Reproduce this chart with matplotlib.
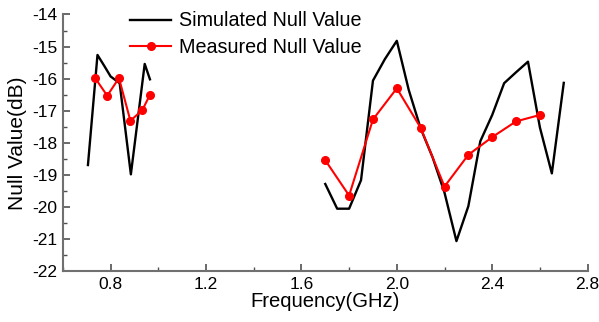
import matplotlib
matplotlib.use("Agg")
import matplotlib.pyplot as plt
from matplotlib.ticker import MultipleLocator

plt.rcParams['font.family'] = ['Liberation Sans', 'DejaVu Sans']
plt.rcParams['axes.unicode_minus'] = False

# Low band (GHz, dB)
sim_low_freq = [0.705, 0.745, 0.775, 0.800, 0.838, 0.885, 0.943, 0.965]
sim_low_null = [-18.69, -15.26, -15.62, -15.93, -16.14, -18.98, -15.54, -16.02]
meas_low_freq = [0.735, 0.786, 0.835, 0.883, 0.933, 0.965]
meas_low_null = [-15.98, -16.53, -15.98, -17.31, -16.98, -16.50]

# High band (GHz, dB)
sim_high_freq = [1.70, 1.75, 1.80, 1.85, 1.90, 1.95, 2.00, 2.05, 2.10, 2.15,
                 2.20, 2.25, 2.30, 2.35, 2.40, 2.45, 2.50, 2.55, 2.60, 2.65, 2.70]
sim_high_null = [-19.28, -20.05, -20.05, -19.16, -16.06, -15.39, -14.82, -16.35,
                 -17.55, -18.45, -19.55, -21.06, -19.97, -17.95, -17.13, -16.14,
                 -15.80, -15.47, -17.52, -18.95, -16.13]
meas_high_freq = [1.70, 1.80, 1.90, 2.00, 2.10, 2.20, 2.30, 2.40, 2.50, 2.60]
meas_high_null = [-18.54, -19.64, -17.27, -16.30, -17.53, -19.36, -18.37, -17.82,
                  -17.33, -17.13]

x_ticks = [0.8, 1.2, 1.6, 2.0, 2.4, 2.8]
y_ticks = [-22, -21, -20, -19, -18, -17, -16, -15, -14]

fig = plt.figure(figsize=(5.99, 3.22), dpi=100)
ax = fig.add_axes([0.105, 0.1575, 0.876, 0.7975])

sim_kw = dict(color='black', lw=1.7)
meas_kw = dict(color='#ff0000', lw=1.5, marker='o', markersize=5.5)

ax.plot(sim_low_freq, sim_low_null, label='Simulated Null Value', **sim_kw)
ax.plot(meas_low_freq, meas_low_null, label='Measured Null Value', **meas_kw)
ax.plot(sim_high_freq, sim_high_null, **sim_kw)
ax.plot(meas_high_freq, meas_high_null, **meas_kw)

ax.set_xlim(0.6, 2.8)
ax.set_ylim(-22, -14)
ax.set_xticks(x_ticks)
ax.set_xticklabels([f'{t:.1f}' for t in x_ticks])
ax.set_yticks(y_ticks)
ax.xaxis.set_minor_locator(MultipleLocator(0.2))
ax.yaxis.set_minor_locator(MultipleLocator(0.5))

for side in ('top', 'right'):
    ax.spines[side].set_visible(False)
for side in ('left', 'bottom'):
    ax.spines[side].set_color('#707070')
    ax.spines[side].set_linewidth(1.5)

ax.tick_params(which='major', direction='in', length=5, width=1.2,
               color='#505050', labelsize=12.5, pad=4)
ax.tick_params(which='minor', direction='in', length=3, width=1.0,
               color='#505050')

ax.set_xlabel('Frequency(GHz)', fontsize=14.6, labelpad=0)
ax.set_ylabel('Null Value(dB)', fontsize=15, labelpad=4)

ax.legend(loc='upper left', bbox_to_anchor=(0.128, 1.012), frameon=False,
          fontsize=14.2, handlelength=2.1, handletextpad=0.4,
          labelspacing=0.38, borderpad=0, borderaxespad=0)

fig.savefig('out.png', dpi=100)
